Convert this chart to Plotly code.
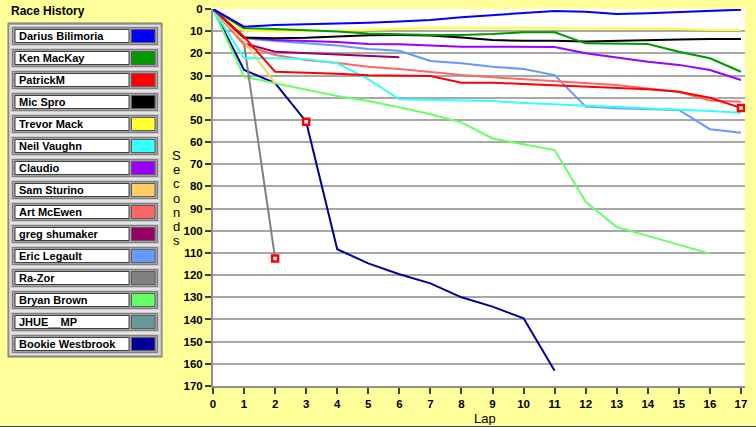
import plotly.graph_objects as go

# lap number on the x axis, seconds behind the leader on the y axis
laps = list(range(18))

drivers = ["Darius Bilimoria", "Ken MacKay", "PatrickM", "Mic Spro", "Trevor Mack",
           "Neil Vaughn", "Claudio", "Sam Sturino", "Art McEwen", "greg shumaker",
           "Eric Legault", "Ra-Zor", "Bryan Brown", "JHUE__MP", "Bookie Westbrook"]

darius_bilimoria = [0, 8.0, 7.2, 6.9, 6.4, 6.2, 5.6, 5.0, 3.7, 2.7, 1.9, 0.9, 1.2, 2.3, 1.9, 1.4, 0.8, 0.3]
ken_mackay = [0, 8.7, 9.0, 9.5, 10.1, 11.0, 11.5, 11.7, 11.7, 11.3, 10.5, 10.5, 15.5, 15.5, 15.8, 19.3, 22.2, 28.3]
patrickm = [0, 12.5, 28.3, 28.7, 29.2, 29.9, 30.2, 30.2, 33.2, 33.2, 33.8, 34.4, 35.3, 35.8, 36.2, 37.3, 40.0, 44.6]
mic_spro = [0, 12.9, 13.2, 13.0, 12.4, 11.8, 11.7, 11.9, 12.8, 14.0, 14.3, 14.3, 14.7, 14.3, 14.0, 13.7, 13.5, 13.5]
trevor_mack = [0, 9.8, 10.2, 10.2, 9.9, 9.5, 9.0, 8.4, 8.5, 8.5, 8.6, 8.7, 8.7, 8.7, 8.8, 9.0, 9.5, 9.5]
neil_vaughn = [0, 22.2, 22.2, 22.5, 24.5, 31.6, 40.7, 41.0, 41.0, 41.5, 42.4, 43.0, 43.7, 44.0, 44.8, 45.2, 46.0, 46.8]
claudio = [0, 12.8, 14.0, 14.4, 14.9, 15.8, 15.9, 16.5, 17.0, 17.0, 17.0, 17.1, 20.0, 21.8, 23.8, 25.2, 27.5, 32.0]
sam_sturino = [0, 14.7, 33.5]
art_mcewen = [0, 16.2, 20.7, 23.0, 24.3, 26.0, 27.1, 28.5, 29.8, 30.8, 31.6, 32.5, 33.5, 34.3, 35.8, 37.3, 41.3, 41.8]
greg_shumaker = [0, 15.5, 19.3, 20.0, 20.7, 21.4, 21.8]
eric_legault = [0, 13.2, 14.4, 15.3, 16.5, 18.0, 18.8, 23.4, 24.5, 26.0, 27.1, 29.8, 44.0, 44.8, 45.2, 45.5, 54.2, 55.8]
ra_zor = [0, 15.8, 112.5]
bryan_brown = [0, 30.5, 33.5, 36.5, 39.2, 41.5, 44.3, 47.5, 51.1, 58.4, 61.0, 63.6, 86.9, 98.3, 102.3, 106.3, 110.3]
jhue_mp = [0]
bookie_westbrook = [0, 27.5, 33.4, 50.8, 108.3, 114.7, 119.6, 123.7, 130.0, 134.2, 139.5, 163.1]

values = [darius_bilimoria, ken_mackay, patrickm, mic_spro, trevor_mack, neil_vaughn,
          claudio, sam_sturino, art_mcewen, greg_shumaker, eric_legault, ra_zor,
          bryan_brown, jhue_mp, bookie_westbrook]

# red squares drawn on these laps
pit_marks = [("Ra-Zor", 2), ("Bookie Westbrook", 3), ("PatrickM", 17)]

colors = ["#0000FF", "#009900", "#FF0000", "#000000", "#FFFF33", "#33FFFF", "#9900FF",
          "#FFCC66", "#FF6666", "#990066", "#6699FF", "#808080", "#66FF66", "#669999",
          "#000099"]

W, H = 756, 427
L, R, T, B = 213, 11, 9, 41
BG = "#FFFF99"
FONT = "Liberation Sans"


def px(x):
    return (x - L) / (W - L - R)


def py(y):
    return (H - B - y) / (H - T - B)


fig = go.Figure()

# first legend entry ends up on top
for name, vals, col in reversed(list(zip(drivers, values, colors))):
    fig.add_trace(go.Scatter(x=laps[:len(vals)], y=vals, mode="lines", name=name,
                             line=dict(color=col, width=2)))

series = dict(zip(drivers, values))
fig.add_trace(go.Scatter(
    x=[lap for _, lap in pit_marks],
    y=[series[n][lap] for n, lap in pit_marks],
    mode="markers",
    marker=dict(symbol="square", size=6, color="white", line=dict(color="#FF0000", width=2.5)),
))

shapes = []
annotations = []

# legend panel on the left
shapes.append(dict(type="rect", xref="paper", yref="paper", x0=px(8), x1=px(162), y0=py(357), y1=py(23),
                   fillcolor="#A8A8A8", line=dict(color="#707070", width=1), layer="above"))
for i, (name, col) in enumerate(zip(drivers, colors)):
    c = 36 + 22 * i
    shapes.append(dict(type="rect", xref="paper", yref="paper", x0=px(10), x1=px(160),
                       y0=py(c + 10.5), y1=py(c - 10.5), fillcolor="#C8C8C8",
                       line=dict(color="#E4E4E4", width=1)))
    shapes.append(dict(type="rect", xref="paper", yref="paper", x0=px(12.5), x1=px(157.5),
                       y0=py(c + 8.5), y1=py(c - 8.5), fillcolor="#A0A0A0",
                       line=dict(color="#808080", width=1)))
    shapes.append(dict(type="rect", xref="paper", yref="paper", x0=px(15), x1=px(129),
                       y0=py(c + 6.5), y1=py(c - 6.5), fillcolor="white",
                       line=dict(color="#404040", width=1)))
    shapes.append(dict(type="rect", xref="paper", yref="paper", x0=px(131.5), x1=px(155),
                       y0=py(c + 6.5), y1=py(c - 6.5), fillcolor=col,
                       line=dict(color="#606060", width=1)))
    annotations.append(dict(x=px(16.5), y=py(c), xref="paper", yref="paper", text=name,
                            showarrow=False, xanchor="left", yanchor="middle",
                            font=dict(family=FONT, size=11, color="black", weight="bold")))

annotations.append(dict(x=px(9), y=py(11), xref="paper", yref="paper", text="Race History",
                        showarrow=False, xanchor="left", yanchor="middle",
                        font=dict(family=FONT, size=12, color="black", weight="bold")))

# vertical axis title, one letter per row
for k, ch in enumerate("Seconds"):
    annotations.append(dict(x=px(176), y=py(155 + 14.2 * k), xref="paper", yref="paper", text=ch,
                            showarrow=False, xanchor="center", yanchor="middle", height=14,
                            font=dict(family=FONT, size=13, color="black")))

annotations.append(dict(x=px(485), y=py(418), xref="paper", yref="paper", text="Lap",
                        showarrow=False, xanchor="center", yanchor="middle", height=13,
                        font=dict(family=FONT, size=13, color="black")))

# frame line along the bottom edge
shapes.append(dict(type="line", xref="paper", yref="paper", x0=px(0), x1=px(W), y0=py(426.5), y1=py(426.5),
                   line=dict(color="#404040", width=1)))

fig.update_layout(
    width=W, height=H,
    margin=dict(l=L, r=R, t=T, b=B),
    paper_bgcolor=BG, plot_bgcolor="white",
    showlegend=False,
    shapes=shapes, annotations=annotations,
)
fig.update_xaxes(range=[0, 17.13], tickmode="linear", tick0=0, dtick=1, showgrid=False,
                 zeroline=False, showline=True, linecolor="#909090", linewidth=2,
                 ticks="outside", ticklen=6, tickwidth=2, tickcolor="#404040", automargin=False,
                 tickfont=dict(family=FONT, size=11.5, color="black", weight="bold"))
fig.update_yaxes(range=[170, 0], tickmode="linear", tick0=0, dtick=10, showgrid=True,
                 gridcolor="#A8A8A8", gridwidth=1.5, zeroline=False, showline=True,
                 linecolor="#909090", linewidth=2, ticks="outside", ticklen=6, tickwidth=2,
                 tickcolor="#404040", automargin=False,
                 tickfont=dict(family=FONT, size=11.5, color="black", weight="bold"))

fig.write_html("out.html", config={"displayModeBar": False},
               post_script="document.body.style.margin='0';document.body.style.overflow='hidden';")
